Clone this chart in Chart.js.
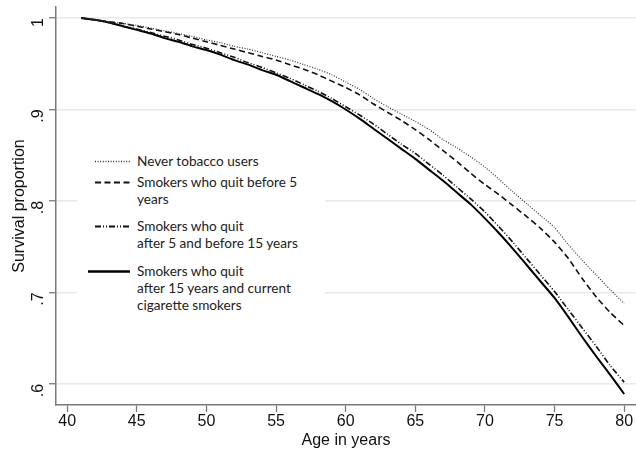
<!DOCTYPE html>
<html>
<head>
<meta charset="utf-8">
<style>
  html, body { margin: 0; padding: 0; background: #fff; }
  #wrap { position: relative; width: 636px; height: 450px; }
  #legend { position: absolute; left: 77px; top: 145px; width: 248px; height: 178px; background: #fff;
            font-family: Lato, "Open Sans", sans-serif; font-size: 13.6px; line-height: 17px; color: #222; }
  .item { position: absolute; left: 0; width: 248px; }
  .item svg { position: absolute; left: 0; top: 0; }
  .item .txt { position: absolute; left: 60px; top: 0; white-space: nowrap; }
</style>
</head>
<body>
<div id="wrap">
  <canvas id="myChart" width="636" height="450"></canvas>
  <div id="legend"></div>
</div>
<script src="https://cdn.jsdelivr.net/npm/chart.js@4.4.2/dist/chart.umd.min.js"></script>
<script>
// Age in years (x values)
const ages = [41, 42, 43, 44, 45, 46, 47, 48, 49, 50,
              51, 52, 53, 54, 55, 56, 57, 58, 59, 60,
              61, 62, 63, 64, 65, 66, 67, 68, 69, 70,
              71, 72, 73, 74, 75, 76, 77, 78, 79, 80];

// Survival proportion
const neverUsers = [1.000, .998, .996, .994, .992, .989, .986, .983, .980, .976,
                    .973, .969, .966, .962, .958, .954, .949, .944, .938, .930,
                    .922, .912, .903, .895, .887, .878, .867, .858, .848, .837,
                    .824, .810, .797, .784, .771, .752, .735, .719, .703, .688];
const quitBefore5 = [1.000, .998, .996, .994, .991, .988, .985, .982, .978, .974,
                     .970, .966, .962, .958, .954, .949, .944, .938, .931, .924,
                     .916, .906, .897, .888, .878, .867, .855, .843, .830, .818,
                     .807, .795, .783, .770, .755, .737, .715, .695, .678, .664];
const quit5to15 = [1.000, .998, .995, .991, .988, .984, .980, .976, .971, .967,
                   .962, .957, .951, .946, .940, .934, .927, .920, .912, .903,
                   .894, .884, .873, .862, .852, .840, .828, .815, .802, .788,
                   .772, .755, .737, .719, .701, .681, .661, .641, .620, .602];
const quitAfter15 = [1.000, .998, .995, .991, .987, .983, .978, .974, .969, .965,
                     .960, .954, .949, .943, .938, .931, .924, .917, .909, .900,
                     .890, .879, .868, .857, .846, .834, .822, .809, .796, .781,
                     .765, .748, .730, .712, .694, .673, .651, .630, .610, .589];

const xTicks = [40, 45, 50, 55, 60, 65, 70, 75, 80];
const yTicks = [0.6, 0.7, 0.8, 0.9, 1];

const seriesNames = [
    ['Never tobacco users'],
    ['Smokers who quit before 5', 'years'],
    ['Smokers who quit', 'after 5 and before 15 years'],
    ['Smokers who quit', 'after 15 years and current', 'cigarette smokers']
];

// line looks, shared by chart and legend
const styles = [
    { width: 1.2, dash: [1, 1.6], color: '#333' },
    { width: 1.6, dash: [6, 3.5], color: '#111' },
    { width: 1.6, dash: [6, 2, 1, 2, 1, 2], color: '#111' },
    { width: 2, dash: [], color: '#000' }
];

function toPoints(values) {
    return ages.map((a, i) => ({ x: a, y: values[i] }));
}

const allValues = [neverUsers, quitBefore5, quit5to15, quitAfter15];

const data = {
    datasets: allValues.map((vals, i) => ({
        label: seriesNames[i].join(' '),
        data: toPoints(vals),
        borderColor: styles[i].color,
        borderWidth: styles[i].width,
        borderDash: styles[i].dash,
        pointRadius: 0,
        tension: 0.2,
        fill: false
    }))
};

const axisColor = '#7a7a7a';

const config = {
    type: 'line',
    data,
    options: {
        responsive: false,
        animation: false,
        layout: { padding: { top: 7, right: 0, left: 0, bottom: 0 } },
        plugins: {
            legend: { display: false },
            tooltip: { enabled: false }
        },
        scales: {
            x: {
                type: 'linear',
                min: 39.2,
                max: 80.85,
                afterBuildTicks: (axis) => { axis.ticks = xTicks.map(v => ({ value: v })); },
                afterFit: (axis) => {
                    axis.height = 45;
                    axis.paddingLeft = 0;
                    axis.paddingRight = 0;
                },
                ticks: {
                    color: '#111',
                    font: { family: '"Liberation Sans", Arial, sans-serif', size: 16 },
                    padding: 0,
                    maxRotation: 0
                },
                grid: {
                    drawOnChartArea: false,
                    tickLength: 7,
                    tickColor: axisColor,
                    tickWidth: 1.3
                },
                border: { display: true, color: axisColor, width: 1.5 },
                title: {
                    display: true,
                    text: 'Age in years',
                    color: '#111',
                    font: { family: '"Liberation Sans", Arial, sans-serif', size: 16 },
                    padding: { top: -3, bottom: 0 }
                }
            },
            y: {
                min: 0.577,
                max: 1.012,
                afterBuildTicks: (axis) => { axis.ticks = yTicks.map(v => ({ value: v })); },
                afterFit: (axis) => {
                    axis.width = 56;
                    axis.paddingTop = 0;
                    axis.paddingBottom = 0;
                },
                ticks: {
                    color: '#111',
                    font: { family: '"Liberation Sans", Arial, sans-serif', size: 16 },
                    minRotation: 90,
                    maxRotation: 90,
                    padding: 10,
                    callback: (v) => (v === 1 ? '1' : String(v).replace(/^0/, ''))
                },
                grid: {
                    color: '#e9e9e9',
                    lineWidth: 1.5,
                    tickLength: 7,
                    tickColor: axisColor,
                    tickWidth: 1.3
                },
                border: { display: true, color: axisColor, width: 1.5 },
                title: {
                    display: true,
                    text: 'Survival proportion',
                    color: '#111',
                    font: { family: '"Liberation Sans", Arial, sans-serif', size: 16 },
                    padding: { top: 10, bottom: 0 }
                }
            }
        }
    }
};

let myChart = new Chart(document.getElementById('myChart'), config);

// legend drawn as html on top of the plot
const legendTops = [153, 174, 218, 263];
const sampleSpans = [[18, 53], [18, 53], [18, 53], [11, 53]];
const legendBox = document.getElementById('legend');
seriesNames.forEach((lines, i) => {
    const item = document.createElement('div');
    item.className = 'item';
    item.style.top = (legendTops[i] - 145) + 'px';
    const st = styles[i];
    const w = i === 3 ? 2.6 : st.width + 0.3;
    item.innerHTML =
        '<svg width="60" height="17"><line x1="' + sampleSpans[i][0] + '" y1="8.5" x2="' + sampleSpans[i][1] +
        '" y2="8.5" stroke="' + st.color + '" stroke-width="' + w + '" stroke-dasharray="' +
        (st.dash.length ? st.dash.join(' ') : 'none') + '"/></svg>' +
        '<div class="txt">' + lines.join('<br>') + '</div>';
    legendBox.appendChild(item);
});
</script>
</body>
</html>
